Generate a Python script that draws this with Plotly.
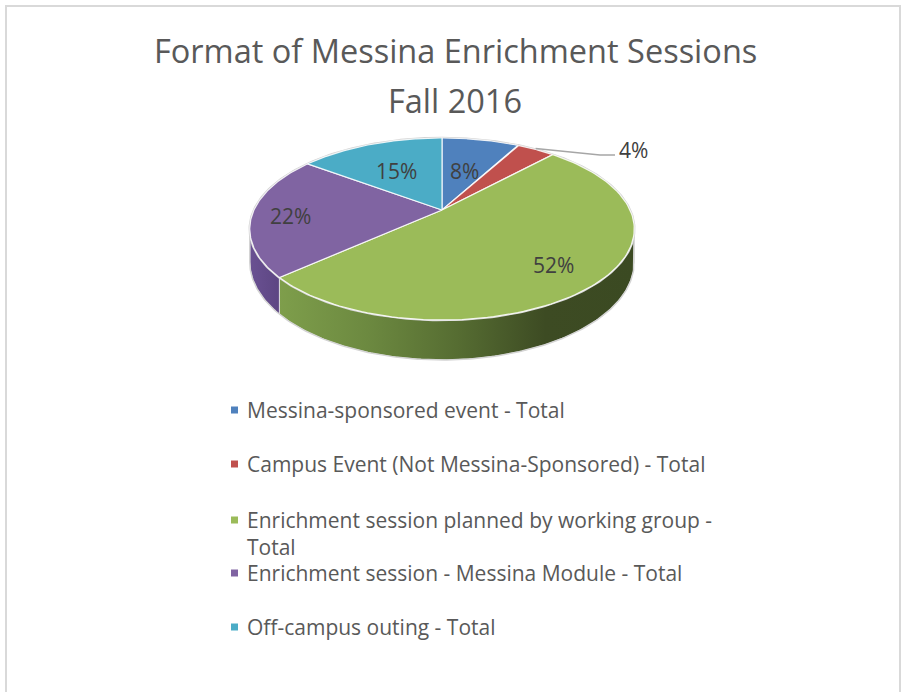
import numpy as np
import plotly.graph_objects as go

# ---------------- data ----------------
categories = [
    "Messina-sponsored event - Total",
    "Campus Event (Not Messina-Sponsored) - Total",
    "Enrichment session planned by working group - Total",
    "Enrichment session - Messina Module - Total",
    "Off-campus outing - Total",
]
values = [8, 4, 52, 22, 15]
pct_labels = ["8%", "4%", "52%", "22%", "15%"]

# ---------------- style ----------------
colors = ["#4F81BD", "#C0504D", "#9BBB59", "#8064A2", "#4BACC6"]
wall_scales = [
    [[0, "#3f5f8c"], [1, "#2c4466"]],
    [[0, "#8f3a38"], [1, "#6b2a28"]],
    [[0, "#7e9e4b"], [0.25, "#6c8940"], [0.5, "#566d32"], [0.75, "#3d4b23"], [1, "#3b4a22"]],
    [[0, "#6a5192"], [1, "#5d4683"]],
    [[0, "#378ea4"], [1, "#2a6f80"]],
]
label_r = [0.55, 1.0, 0.75, 0.8, 0.6]
FONT = "Open Sans"
W, Hgt = 903, 692

# 3-D pie projection parameters (pixel space)
CX, B, A, C, RX, DEPTH = 442.0, 210.0, 43.2, -0.2088, 188.0, 31.6


def proj(phi_deg, r=1.0, depth=0.0):
    phi = np.radians(phi_deg)
    u = r * np.sin(phi)
    v = -r * np.cos(phi)
    d = 1 + C * v
    return CX + RX * u / d, (B + A * v) / d + depth * DEPTH / d


total = float(sum(values))
bounds = np.concatenate([[0.0], np.cumsum(values) / total * 360.0])

fig = go.Figure()

# visible side walls (front part of the disc)
VIS0, VIS1 = 102.0, 258.0
for i in range(len(values)):
    a0, a1 = max(bounds[i], VIS0), min(bounds[i + 1], VIS1)
    if a1 <= a0:
        continue
    ph = np.linspace(a0, a1, 120)
    xt, yt = proj(ph)
    xb, yb = proj(ph[::-1], depth=1.0)
    xs = np.concatenate([xt, xb, xt[:1]])
    ys = np.concatenate([yt, yb, yt[:1]])
    fig.add_trace(go.Scatter(
        x=xs, y=ys, mode="lines", fill="toself",
        line=dict(color="rgba(255,255,255,0.6)", width=1),
        fillgradient=dict(type="horizontal", colorscale=wall_scales[i],
                          start=float(xs.min()), stop=float(xs.max())),
        hoverinfo="skip", showlegend=False))

# outline of the whole disc (light gray)
ph = np.linspace(VIS0, VIS1, 200)
xb, yb = proj(ph, depth=1.0)
xt0, yt0 = proj(np.array([VIS0]))
xt1, yt1 = proj(np.array([VIS1]))
fig.add_trace(go.Scatter(
    x=np.concatenate([xt0, xb, xt1]), y=np.concatenate([yt0, yb, yt1]),
    mode="lines", line=dict(color="#d4d4d4", width=1.5),
    hoverinfo="skip", showlegend=False))
pha = np.linspace(0, 360, 400)
xa, ya = proj(pha)
fig.add_trace(go.Scatter(x=xa, y=ya, mode="lines", line=dict(color="#d4d4d4", width=2.5),
                         hoverinfo="skip", showlegend=False))

# top faces
for i in range(len(values)):
    ph = np.linspace(bounds[i], bounds[i + 1], 120)
    xt, yt = proj(ph)
    xs = np.concatenate([[CX], xt, [CX]])
    ys = np.concatenate([[B], yt, [B]])
    fig.add_trace(go.Scatter(
        x=xs, y=ys, mode="lines", fill="toself", fillcolor=colors[i],
        line=dict(color="rgba(255,255,255,0.85)", width=1.2),
        hoverinfo="skip", showlegend=False))

annotations = []
# data labels
for i in range(len(values)):
    mid = (bounds[i] + bounds[i + 1]) / 2
    if label_r[i] >= 1.0:
        x0, y0 = proj(np.array([mid]), r=1.0)
        lx, ly = 616.0, 155.0
        fig.add_trace(go.Scatter(
            x=[x0[0], lx - 16, lx - 1], y=[y0[0] - 1, ly, ly], mode="lines",
            line=dict(color="#a6a6a6", width=1.3), hoverinfo="skip", showlegend=False))
        annotations.append(dict(x=lx + 1, y=ly - 5, text=pct_labels[i], xanchor="left",
                                yanchor="middle", showarrow=False,
                                font=dict(family=FONT, size=21, color="#404040")))
    else:
        x0, y0 = proj(np.array([mid]), r=label_r[i])
        annotations.append(dict(x=x0[0], y=y0[0] + 3, text=pct_labels[i], showarrow=False,
                                font=dict(family=FONT, size=21, color="#404040")))

# legend (manual layout to reproduce the original spacing)
leg_y = [410, 464, 520, 573, 627]
leg_text = [
    categories[0], categories[1],
    "Enrichment session planned by working group -<br>Total",
    categories[3], categories[4],
]
fig.add_trace(go.Scatter(
    x=[234.5] * len(leg_y), y=leg_y, mode="markers",
    marker=dict(symbol="square", size=7, color=colors, line=dict(width=0)),
    hoverinfo="skip", showlegend=False))
for t, y in zip(leg_text, leg_y):
    annotations.append(dict(x=245, y=y - 16, text=t, xanchor="left", yanchor="top",
                            align="left", showarrow=False,
                            font=dict(family=FONT, size=21, color="#595959")))

# title
annotations.append(dict(x=455, y=50, text="Format of Messina Enrichment Sessions",
                        showarrow=False, xanchor="center", yanchor="middle",
                        font=dict(family=FONT, size=32.5, color="#595959")))
annotations.append(dict(x=455, y=100, text="Fall 2016", showarrow=False,
                        xanchor="center", yanchor="middle",
                        font=dict(family=FONT, size=32.5, color="#595959")))

fig.update_layout(
    width=W, height=Hgt, margin=dict(l=0, r=0, t=0, b=0),
    paper_bgcolor="white", plot_bgcolor="white",
    xaxis=dict(range=[0, W], visible=False, fixedrange=True),
    yaxis=dict(range=[Hgt, 0], visible=False, fixedrange=True),
    annotations=annotations,
    shapes=[dict(type="rect", x0=6, x1=900, y0=6, y1=720, xref="x", yref="y",
                 line=dict(color="#d9d9d9", width=2), fillcolor="rgba(0,0,0,0)", layer="below")],
    showlegend=False,
)

fig.write_html("out.html", config={"displayModeBar": False},
               post_script="document.body.style.margin='0px';")
